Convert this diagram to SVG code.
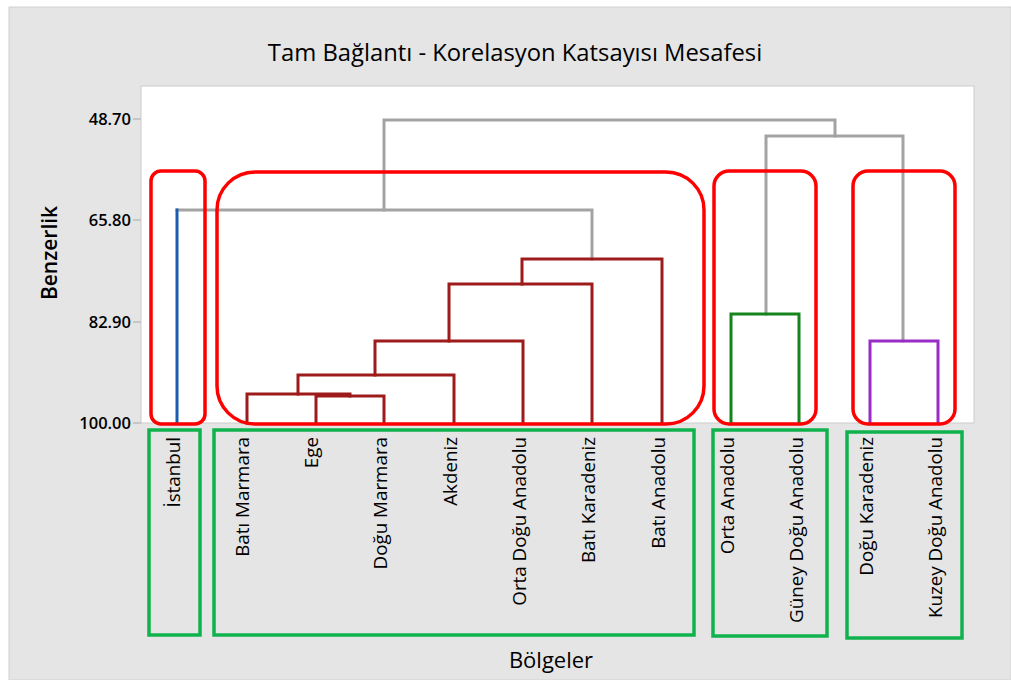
<svg xmlns="http://www.w3.org/2000/svg" width="1011" height="680" viewBox="0 0 1011 680">
  <style>
    .t{font-family:"Open Sans","Noto Sans","DejaVu Sans",sans-serif;fill:#000000}
    .title{font-size:23.8px;font-weight:500}
    .tick{font-size:16.5px;font-weight:600;text-anchor:end}
    .lab{font-size:18.8px;font-weight:500;text-anchor:end}
    .axt{font-size:22px;text-anchor:middle;font-weight:500}
    .axy{font-size:21px;text-anchor:middle;font-weight:600}
    .d{fill:none;stroke-width:3;stroke-linejoin:miter;stroke-linecap:square}
    .g{stroke:#a3a3a3}
    .r{stroke:#9e1b1b}
    .b{stroke:#1b5cad}
    .gr{stroke:#15841c}
    .p{stroke:#9a2cc8}
    .rb{fill:none;stroke:#ff0000;stroke-width:3.5}
    .gb{fill:none;stroke:#0fb24c;stroke-width:3.5}
  </style>
  <rect x="0" y="0" width="1011" height="680" fill="#ffffff"/>
  <rect x="9" y="7" width="1002" height="673" fill="#e5e5e5" stroke="#d2d2d2" stroke-width="1"/>
  <text class="t title" x="515" y="61" text-anchor="middle">Tam Bağlantı - Korelasyon Katsayısı Mesafesi</text>

  <g id="plot-area">
    <rect x="141" y="86" width="833" height="337" fill="#ffffff" stroke="#cbcbcb" stroke-width="1"/>
    <g stroke="#bcbcbc" stroke-width="1.5">
      <line x1="133" y1="119" x2="141" y2="119"/>
      <line x1="133" y1="220" x2="141" y2="220"/>
      <line x1="133" y1="322" x2="141" y2="322"/>
      <line x1="133" y1="423" x2="141" y2="423"/>
    </g>
    <text class="t tick" x="131" y="125">48.70</text>
    <text class="t tick" x="131" y="226">65.80</text>
    <text class="t tick" x="131" y="328">82.90</text>
    <text class="t tick" x="131" y="429">100.00</text>
    <text class="t axy" transform="translate(57,253) rotate(-90)">Benzerlik</text>
    <text class="t axt" x="551" y="668">Bölgeler</text>
  </g>

  <g id="connectors">
    <path class="d g" d="M384,210 V120 H835 V136"/>
    <path class="d g" d="M766,314 V136 H903 V341"/>
    <path class="d g" d="M177,210 H592 V259"/>
    <path class="d b" d="M177,210 V423"/>
    <path class="d r" d="M522,284 V259 H662 V423"/>
    <path class="d r" d="M449,341 V284 H592 V423"/>
    <path class="d r" d="M375,375 V341 H523 V423"/>
    <path class="d r" d="M298,394 V375 H454 V423"/>
    <path class="d r" d="M247,423 V394 H350 V396"/>
    <path class="d r" d="M316,423 V396 H384 V423"/>
    <path class="d gr" d="M731,423 V314 H799 V423"/>
    <path class="d p" d="M870,423 V341 H938 V423"/>
  </g>

  <g id="cluster-boxes">
    <rect class="rb" x="151" y="171" width="54" height="253" rx="10"/>
    <rect class="rb" x="217" y="172" width="487" height="252" rx="38"/>
    <rect class="rb" x="714" y="171" width="102" height="253" rx="15"/>
    <rect class="rb" x="853" y="171" width="102" height="253" rx="15"/>
  </g>

  <g id="leaf-istanbul"><text class="t lab" transform="translate(180,437) rotate(-90)">İstanbul</text></g>
  <g id="leaf-bati-marmara"><text class="t lab" transform="translate(249,437) rotate(-90)">Batı Marmara</text></g>
  <g id="leaf-ege"><text class="t lab" transform="translate(318,437) rotate(-90)">Ege</text></g>
  <g id="leaf-dogu-marmara"><text class="t lab" transform="translate(387,437) rotate(-90)">Doğu Marmara</text></g>
  <g id="leaf-akdeniz"><text class="t lab" transform="translate(457,437) rotate(-90)">Akdeniz</text></g>
  <g id="leaf-orta-dogu-anadolu"><text class="t lab" transform="translate(526,437) rotate(-90)">Orta Doğu Anadolu</text></g>
  <g id="leaf-bati-karadeniz"><text class="t lab" transform="translate(595,437) rotate(-90)">Batı Karadeniz</text></g>
  <g id="leaf-bati-anadolu"><text class="t lab" transform="translate(665,437) rotate(-90)">Batı Anadolu</text></g>
  <g id="leaf-orta-anadolu"><text class="t lab" transform="translate(734,437) rotate(-90)">Orta Anadolu</text></g>
  <g id="leaf-guney-dogu-anadolu"><text class="t lab" transform="translate(803,437) rotate(-90)">Güney Doğu Anadolu</text></g>
  <g id="leaf-dogu-karadeniz"><text class="t lab" transform="translate(873,437) rotate(-90)">Doğu Karadeniz</text></g>
  <g id="leaf-kuzey-dogu-anadolu"><text class="t lab" transform="translate(942,437) rotate(-90)">Kuzey Doğu Anadolu</text></g>

  <g id="label-boxes">
    <rect class="gb" x="149" y="430" width="51" height="205"/>
    <rect class="gb" x="214" y="430" width="480" height="205"/>
    <rect class="gb" x="713" y="430" width="114" height="206"/>
    <rect class="gb" x="847" y="432" width="115" height="206"/>
  </g>
</svg>
